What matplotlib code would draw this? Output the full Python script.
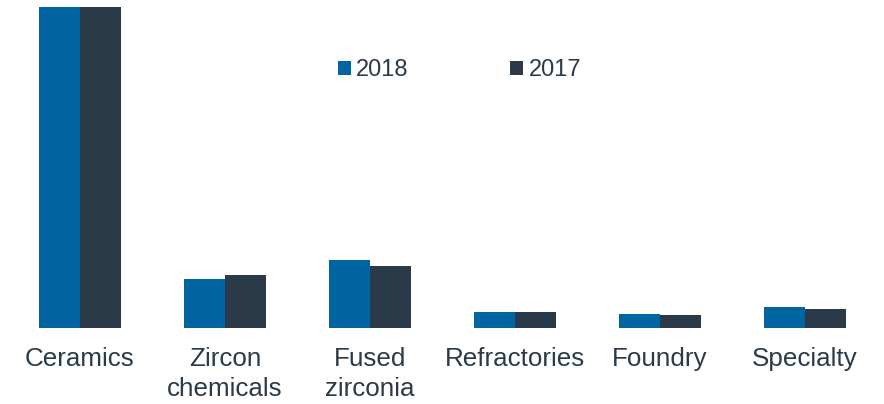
import numpy as np
import matplotlib
matplotlib.use("Agg")
import matplotlib.pyplot as plt

categories = ["Ceramics", "Zircon\nchemicals", "Fused\nzirconia", "Refractories", "Foundry", "Specialty"]
series_names = ["2018", "2017"]
values_2018 = [320.5, 48.5, 67.5, 15.5, 14.0, 21.0]
values_2017 = [320.5, 53.0, 62.0, 15.5, 13.0, 18.5]

blue = "#0065a0"
dark = "#2b3a48"
text_color = "#2b3a48"

plt.rcParams["font.family"] = ["Liberation Sans", "DejaVu Sans"]

W, H = 884, 404
fig = plt.figure(figsize=(W / 100, H / 100), dpi=100)
ax = fig.add_axes([7.5 / W, 76.5 / H, 870 / W, 320.5 / H])

x = np.arange(len(categories))
bw = 0.286
b1 = ax.bar(x - bw / 2, values_2018, bw, color=blue, label=series_names[0])
b2 = ax.bar(x + bw / 2, values_2017, bw, color=dark, label=series_names[1])

ax.set_xlim(-0.5, len(categories) - 0.5)
ax.set_ylim(0, 320.5)
ax.set_yticks([])
ax.set_xticks(x)
ax.set_xticklabels(categories, fontsize=18.7, color=text_color, linespacing=1.3)
ax.tick_params(axis="x", length=0, pad=14)
for s in ax.spines.values():
    s.set_visible(False)

leg = fig.legend(handles=[b1, b2], loc="center left", bbox_to_anchor=(338 / W, 1 - 70 / H),
                 ncol=2, frameon=False, fontsize=17, handlelength=0.55, handleheight=0.55,
                 handletextpad=0.22, columnspacing=4.3, borderpad=0, borderaxespad=0)
for t in leg.get_texts():
    t.set_color(text_color)

fig.savefig("out.png", dpi=100)
